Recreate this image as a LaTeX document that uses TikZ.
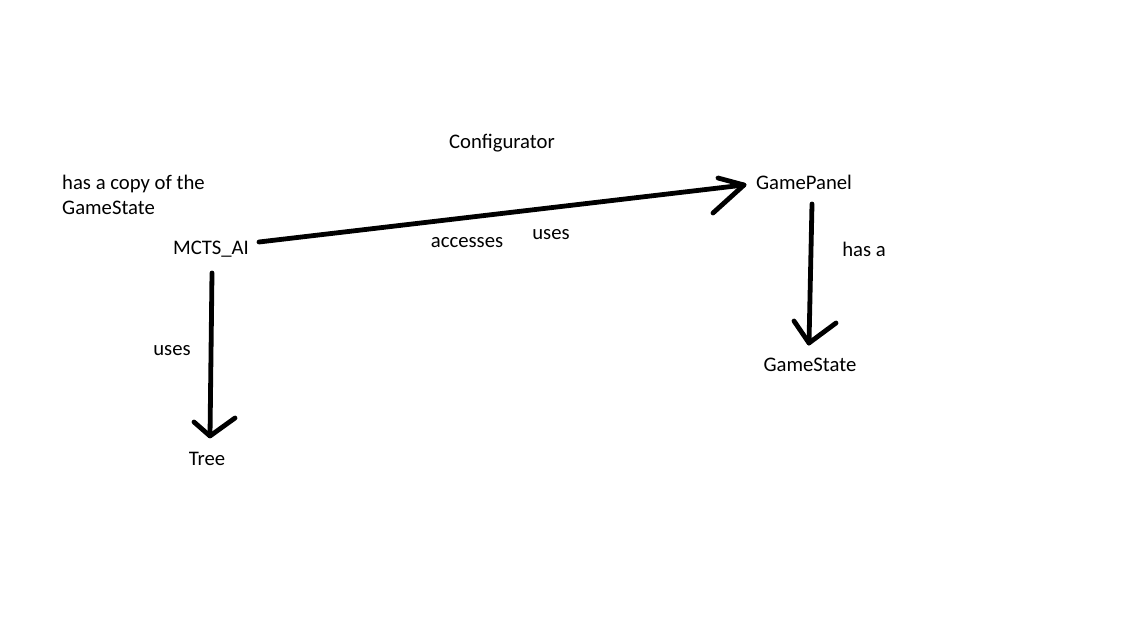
\documentclass[tikz,border=0pt]{standalone}
\usepackage{fontspec}
\setmainfont{Carlito}
\begin{document}
\begin{tikzpicture}[x=1pt,y=-1pt,
  lbl/.style={inner sep=0pt,font=\fontsize{20.7}{25}\selectfont},
  stroke/.style={line width=4.8pt,line cap=round,line join=round}]
\fill[white] (0,0) rectangle (1141,642);
\useasboundingbox (0,0) rectangle (1141,642);
% nodes
\node[lbl] (conf) at (502,143.5) {Configurator};
\node[lbl,align=left,anchor=west] (note) at (62,194.5) {has a copy of the\\GameState};
\node[lbl] (mcts) at (211,249.5) {MCTS\_AI};
\node[lbl] (panel) at (804,182.5) {GamePanel};
\node[lbl] (state) at (810,364.5) {GameState};
\node[lbl] (tree) at (207,458.5) {Tree};
% labels
\node[lbl] (acc) at (467,242.5) {accesses};
\node[lbl] (uses1) at (551,234.5) {uses};
\node[lbl] (hasa) at (864,249.5) {has a};
\node[lbl] (uses2) at (172,350.5) {uses};
% connector end points
\coordinate (m1) at (259,242);
\coordinate (p1) at (744,185);
\coordinate (p2) at (812,204);
\coordinate (s1) at (809,343);
\coordinate (m2) at (212,273);
\coordinate (t1) at (210,436);
% connectors
\draw[stroke] (m1) -- (p1);
\draw[stroke] (718,178) -- (p1) -- (713,213);
\draw[stroke] (p2) -- (s1);
\draw[stroke] (794,321) -- (s1) -- (836,323);
\draw[stroke] (m2) -- (t1);
\draw[stroke] (194,422) -- (t1) -- (235,418);
\end{tikzpicture}
\end{document}
